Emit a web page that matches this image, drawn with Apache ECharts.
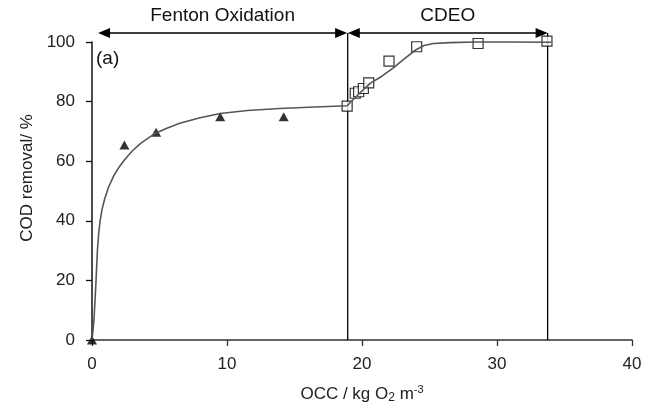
<!DOCTYPE html>
<html>
<head>
<meta charset="utf-8">
<script src="https://cdn.jsdelivr.net/npm/echarts@6/dist/echarts.min.js"></script>
<style>
  html, body { margin: 0; padding: 0; background: #fff; }
  #chart { width: 656px; height: 414px; }
</style>
</head>
<body>
<div id="chart"></div>
<script>
  // Fenton oxidation points (filled triangles)
  const fentonX = [0, 2.4, 4.75, 9.5, 14.2]
  const fentonY = [0, 65.4, 69.7, 74.9, 74.9]
  // CDEO points (open squares)
  const cdeoX = [18.9, 19.5, 19.75, 20.1, 20.5, 22.0, 24.05, 28.6, 33.7]
  const cdeoY = [78.5, 82.8, 83.3, 84.4, 86.3, 93.6, 98.4, 99.5, 100.3]
  // fitted trend line
  const fitX = [0, 0.08, 0.15, 0.22, 0.3, 0.4, 0.5, 0.6, 0.75, 0.95, 1.2, 1.6, 2.0, 2.4, 3.0, 3.6, 4.7, 5.5, 6.5, 8.0, 9.5, 11.5, 13.9, 16.5, 18.9, 19.7, 20.6, 21.5, 22.3, 23.2, 24.0, 24.6, 25.3, 26.5, 28.5, 31.0, 34.0]
  const fitY = [0, 3.5, 7, 13, 20, 30, 36, 40, 44, 47.5, 51, 55, 58, 60.4, 63.5, 66, 69.4, 71, 72.7, 74.6, 76.0, 77.0, 77.7, 78.2, 78.6, 82.3, 86.1, 88.6, 91.2, 94.6, 97.4, 98.8, 99.5, 99.8, 100, 100, 99.9]
  // stage annotations
  const stageNames = ['Fenton Oxidation', 'CDEO']
  const stageFrom = [0.45, 18.95]
  const stageTo = [18.9, 33.75]
  const stageLevel = 103
  const dividerX = [18.94, 33.75]

  const zip = (xs, ys) => xs.map((x, i) => [x, ys[i]])
  const font = '"Liberation Sans", Arial, sans-serif'

  function renderStage(params, api) {
    const a = api.coord([api.value(0), api.value(2)])
    const b = api.coord([api.value(1), api.value(2)])
    const L = 12, W = 5
    return {
      type: 'group',
      children: [
        { type: 'line', shape: { x1: a[0] + L - 1, y1: a[1], x2: b[0] - L + 1, y2: b[1] }, style: { stroke: '#000', lineWidth: 1.5 } },
        { type: 'polygon', shape: { points: [[a[0], a[1]], [a[0] + L, a[1] - W], [a[0] + L, a[1] + W]] }, style: { fill: '#000' } },
        { type: 'polygon', shape: { points: [[b[0], b[1]], [b[0] - L, b[1] - W], [b[0] - L, b[1] + W]] }, style: { fill: '#000' } },
        {
          type: 'text', x: (a[0] + b[0]) / 2, y: a[1] - 8,
          style: { text: stageNames[params.dataIndex], fill: '#111', font: '19px ' + font, align: 'center', verticalAlign: 'bottom' }
        }
      ]
    }
  }

  function renderDivider(params, api) {
    const a = api.coord([api.value(0), api.value(1)])
    const b = api.coord([api.value(0), api.value(2)])
    return { type: 'line', shape: { x1: a[0], y1: a[1], x2: b[0], y2: b[1] }, style: { stroke: '#000', lineWidth: 1.3 } }
  }

  const myChart = echarts.init(document.getElementById('chart'))
  myChart.setOption({
    animation: false,
    backgroundColor: '#fff',
    grid: { left: 92, right: 24, top: 42, bottom: 74 },
    graphic: [
      { type: 'text', left: 96, top: 49, style: { text: '(a)', fill: '#111', font: '19px ' + font } }
    ],
    xAxis: {
      type: 'value',
      min: 0, max: 40, interval: 10,
      name: 'OCC / kg O{sub|2} m{sup|-3}',
      nameLocation: 'middle',
      nameGap: 44,
      nameTextStyle: {
        color: '#222', fontSize: 17, fontFamily: font,
        rich: {
          sub: { fontSize: 12, verticalAlign: 'bottom', padding: [8, 0, 0, 0], color: '#222', fontFamily: font },
          sup: { fontSize: 11, verticalAlign: 'top', padding: [0, 0, 8, 0], color: '#222', fontFamily: font }
        }
      },
      axisLine: { lineStyle: { color: '#333', width: 1.5 } },
      axisTick: { length: 6, lineStyle: { color: '#333', width: 1.3 } },
      axisLabel: { color: '#222', fontSize: 17, fontFamily: font, margin: 16 },
      splitLine: { show: false }
    },
    yAxis: {
      type: 'value',
      min: 0, max: 100, interval: 20,
      name: 'COD removal/ %',
      nameLocation: 'middle',
      nameGap: 52,
      nameTextStyle: { color: '#222', fontSize: 17, fontFamily: font, padding: [0, 0, 0, 26] },
      axisLine: { show: true, lineStyle: { color: '#111', width: 1.5 } },
      axisTick: { show: true, length: 6, lineStyle: { color: '#111', width: 1.3 } },
      axisLabel: { color: '#222', fontSize: 17, fontFamily: font, margin: 17 },
      splitLine: { show: false }
    },
    series: [
      {
        type: 'custom',
        clip: false,
        silent: true,
        renderItem: renderDivider,
        encode: { x: 0, y: [1, 2] },
        data: dividerX.map(x => [x, 0, stageLevel])
      },
      {
        type: 'custom',
        clip: false,
        silent: true,
        renderItem: renderStage,
        encode: { x: [0, 1], y: 2 },
        data: stageFrom.map((x, i) => [x, stageTo[i], stageLevel])
      },
      {
        type: 'line',
        smooth: false,
        showSymbol: false,
        clip: false,
        lineStyle: { color: '#555', width: 1.6 },
        data: zip(fitX, fitY)
      },
      {
        type: 'scatter',
        clip: false,
        symbol: 'triangle',
        symbolSize: [10, 9],
        itemStyle: { color: '#000' },
        data: zip(fentonX, fentonY)
      },
      {
        type: 'scatter',
        clip: false,
        symbol: 'rect',
        symbolSize: 10,
        itemStyle: { color: '#fff', borderColor: '#000', borderWidth: 1.2 },
        data: zip(cdeoX, cdeoY)
      }
    ]
  })
</script>
</body>
</html>
